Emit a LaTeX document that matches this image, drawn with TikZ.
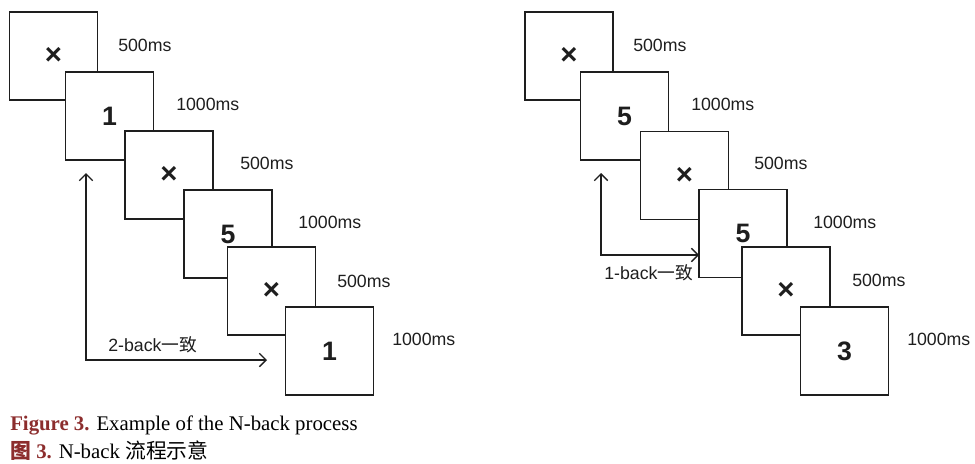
\documentclass[tikz,border=0pt]{standalone}
\usepackage{fontspec}
\setmainfont{Liberation Sans}
\newfontfamily\cjk{Noto Sans CJK SC}
\newfontfamily\capfont{Liberation Serif}
\usetikzlibrary{arrows.meta}
\definecolor{figred}{RGB}{140,45,45}
\definecolor{ink}{RGB}{30,30,30}
\begin{document}
\begin{tikzpicture}[x=0.75pt,y=-0.75pt,
  scr/.style={draw=ink, line width=1.3pt, fill=white, minimum width=66pt, minimum height=66pt, inner sep=0pt, text=ink, font=\fontsize{20}{24}\selectfont\bfseries},
  fixmark/.style={scr, font=\fontsize{22}{26}\selectfont\bfseries},
  dur/.style={anchor=west, inner sep=0pt, text=ink, font=\fontsize{13.3}{16}\selectfont},
  cue/.style={draw=ink, line width=1pt, {Straight Barb[length=5pt,width=10pt]}-{Straight Barb[length=5pt,width=10pt]}},
  cuelab/.style={anchor=west, inner sep=0pt, text=ink, font=\fontsize{13.3}{16}\selectfont},
  captext/.style={anchor=west, inner sep=0pt, font=\capfont\fontsize{15.6}{18}\selectfont}
]
\path[use as bounding box] (0,0) rectangle (975,464);

% left panel (2-back)
\node[fixmark] (a1) at (53.5,56) {×};
\node[scr] (a2) at (109.5,116) {1};
\node[fixmark] (a3) at (169,175) {×};
\node[scr] (a4) at (228,234) {5};
\node[fixmark] (a5) at (271.5,291) {×};
\node[scr] (a6) at (329.5,351) {1};

\node[dur] (ta1) at (118,45) {500ms};
\node[dur] (ta2) at (176,104) {1000ms};
\node[dur] (ta3) at (240,163) {500ms};
\node[dur] (ta4) at (298,222) {1000ms};
\node[dur] (ta5) at (337,281) {500ms};
\node[dur] (ta6) at (392,339) {1000ms};

\coordinate (la) at (86,173);
\coordinate (lb) at (86,360);
\coordinate (lc) at (267,360);
\draw[cue] (la) -- (lb) -- (lc);
\node[cuelab] (lt) at (108,345) {2-back{\cjk 一致}};

% right panel (1-back)
\node[fixmark] (b1) at (569,56) {×};
\node[scr] (b2) at (624.5,116) {5};
\node[fixmark] (b3) at (684.5,175.5) {×};
\node[scr] (b4) at (743,233.5) {5};
\node[fixmark] (b5) at (786,291) {×};
\node[scr] (b6) at (844.5,351) {3};

\node[dur] (tb1) at (633,45) {500ms};
\node[dur] (tb2) at (691,104) {1000ms};
\node[dur] (tb3) at (754,163) {500ms};
\node[dur] (tb4) at (813,222) {1000ms};
\node[dur] (tb5) at (852,280) {500ms};
\node[dur] (tb6) at (907,339) {1000ms};

\coordinate (ra) at (601,173);
\coordinate (rb) at (601,255);
\coordinate (rc) at (699,255);
\draw[cue] (ra) -- (rb) -- (rc);
\node[cuelab] (rt) at (604,273) {1-back{\cjk 一致}};

% caption
\node[captext] (c1) at (10,425) {\textbf{\color{figred}Figure 3.} Example of the N-back process};
\node[captext] (c2) at (10,451) {\textcolor{figred}{\textbf{{\cjk 图} 3.}} N-back {\cjk 流程示意}};
\end{tikzpicture}
\end{document}
